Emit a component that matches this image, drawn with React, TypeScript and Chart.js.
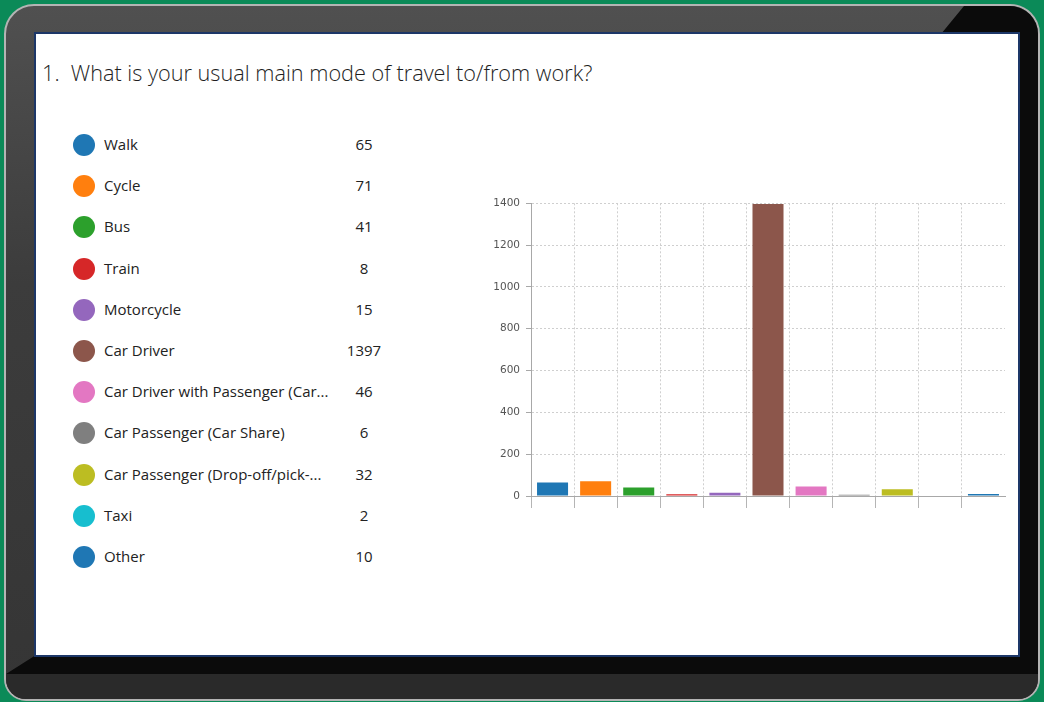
import React, { useEffect, useRef } from "react";
import { Chart, registerables } from "chart.js";

Chart.register(...registerables);

const categories = [
  "Walk",
  "Cycle",
  "Bus",
  "Train",
  "Motorcycle",
  "Car Driver",
  "Car Driver with Passenger (Car...",
  "Car Passenger (Car Share)",
  "Car Passenger (Drop-off/pick-...",
  "Taxi",
  "Other",
];
const counts = [65, 71, 41, 8, 15, 1397, 46, 6, 32, 2, 10];
const colors = [
  "#1f77b4",
  "#ff7f0e",
  "#2ca02c",
  "#d62728",
  "#9467bd",
  "#8c564b",
  "#e377c2",
  "#7f7f7f",
  "#bcbd22",
  "#17becf",
  "#1f77b4",
];
const yTicks = [0, 200, 400, 600, 800, 1000, 1200, 1400];
const title = "1.  What is your usual main mode of travel to/from work?";

const FONT = "'Open Sans', 'Noto Sans', sans-serif";

function BarChart() {
  const ref = useRef<HTMLCanvasElement | null>(null);
  useEffect(() => {
    if (!ref.current) return;
    const chart = new Chart(ref.current, {
      type: "bar",
      data: {
        labels: categories,
        datasets: [
          {
            data: counts,
            backgroundColor: colors,
            borderWidth: 0,
            barPercentage: 0.72,
            categoryPercentage: 1,
          },
        ],
      },
      options: {
        animation: false,
        responsive: false,
        maintainAspectRatio: false,
        layout: { padding: { top: 10, right: 5, bottom: 4, left: 0 } },
        plugins: { legend: { display: false }, tooltip: { enabled: false } },
        scales: {
          x: {
            offset: true,
            grid: {
              offset: true,
              color: (ctx: any) => (ctx.index === undefined ? "rgba(0,0,0,0)" : "#cfcfcf"),
              tickLength: 12,
              drawTicks: true,
              tickColor: (ctx: any) => (ctx.index === undefined ? "rgba(0,0,0,0)" : "#b5b5b5"),
              tickBorderDash: [],
            },
            border: { display: true, color: "#a8a8a8", width: 1, dash: [2, 2] },
            ticks: { display: false },
            afterFit: (s: any) => {
              s.height = 13;
            },
          },
          y: {
            min: 0,
            max: 1400,
            afterBuildTicks: (s: any) => {
              s.ticks = yTicks.map((v) => ({ value: v }));
            },
            grid: {
              color: "#cfcfcf",
              tickLength: 5,
              tickColor: "#a8a8a8",
              tickBorderDash: [],
            },
            border: { display: true, color: "#a8a8a8", width: 1, dash: [2, 2] },
            ticks: {
              color: "#555555",
              font: { family: "'DejaVu Sans', sans-serif", size: 10.5 },
              padding: 6,
              callback: (v: any) => String(v),
            },
            afterFit: (s: any) => {
              s.width = 51;
            },
          },
        },
      },
    });
    return () => chart.destroy();
  }, []);
  return (
    <canvas
      ref={ref}
      width={530}
      height={322}
      style={{ position: "absolute", left: 480, top: 191, width: 530, height: 322 }}
    />
  );
}

export default function App() {
  return (
    <div
      style={{
        position: "fixed",
        left: 0,
        top: 0,
        width: 1044,
        height: 702,
        background: "#0b8a58",
        overflow: "hidden",
        fontFamily: FONT,
      }}
    >
      {/* laptop body */}
      <div
        style={{
          position: "absolute",
          left: 4,
          top: 4,
          width: 1032,
          height: 693,
          borderRadius: "30px 30px 22px 22px",
          border: "2px solid #b4b4b4",
          background: "linear-gradient(180deg, #505050 0%, #3c3c3c 40%, #353535 100%)",
          overflow: "hidden",
        }}
      >
        <div
          style={{
            position: "absolute",
            left: 0,
            top: 0,
            width: 1032,
            height: 693,
            background: "#0b0b0b",
            clipPath:
              "polygon(958px 0px, 1032px 0px, 1032px 668px, 0px 668px, 30px 649px, 1012px 649px, 1012px 28px, 935px 28px)",
          }}
        />
        <div
          style={{
            position: "absolute",
            left: 0,
            right: 0,
            top: 668,
            bottom: 0,
            background: "#2a2a2a",
          }}
        />
      </div>
      {/* screen */}
      <div
        style={{
          position: "absolute",
          left: 34,
          top: 32,
          width: 982,
          height: 621,
          background: "#ffffff",
          border: "2px solid #1d3768",
        }}
      />
      <div
        style={{
          position: "absolute",
          left: 42,
          top: 58,
          fontSize: 21.7,
          fontWeight: 300,
          color: "#1e1e1e",
          whiteSpace: "pre",
          lineHeight: "30px",
        }}
      >
        {title}
      </div>
      {categories.map((c, i) => (
        <div key={c + i}>
          <div
            style={{
              position: "absolute",
              left: 73,
              top: 145 + i * 41.2 - 11,
              width: 22,
              height: 22,
              borderRadius: 11,
              background: colors[i],
            }}
          />
          <div
            style={{
              position: "absolute",
              left: 104,
              top: 144 + i * 41.2 - 11,
              height: 22,
              lineHeight: "22px",
              fontSize: 15,
              color: "#222",
              whiteSpace: "pre",
            }}
          >
            {c}
          </div>
          <div
            style={{
              position: "absolute",
              left: 334,
              width: 60,
              textAlign: "center",
              top: 144 + i * 41.2 - 11,
              height: 22,
              lineHeight: "22px",
              fontSize: 15,
              color: "#222",
            }}
          >
            {counts[i]}
          </div>
        </div>
      ))}
      <BarChart />
    </div>
  );
}
